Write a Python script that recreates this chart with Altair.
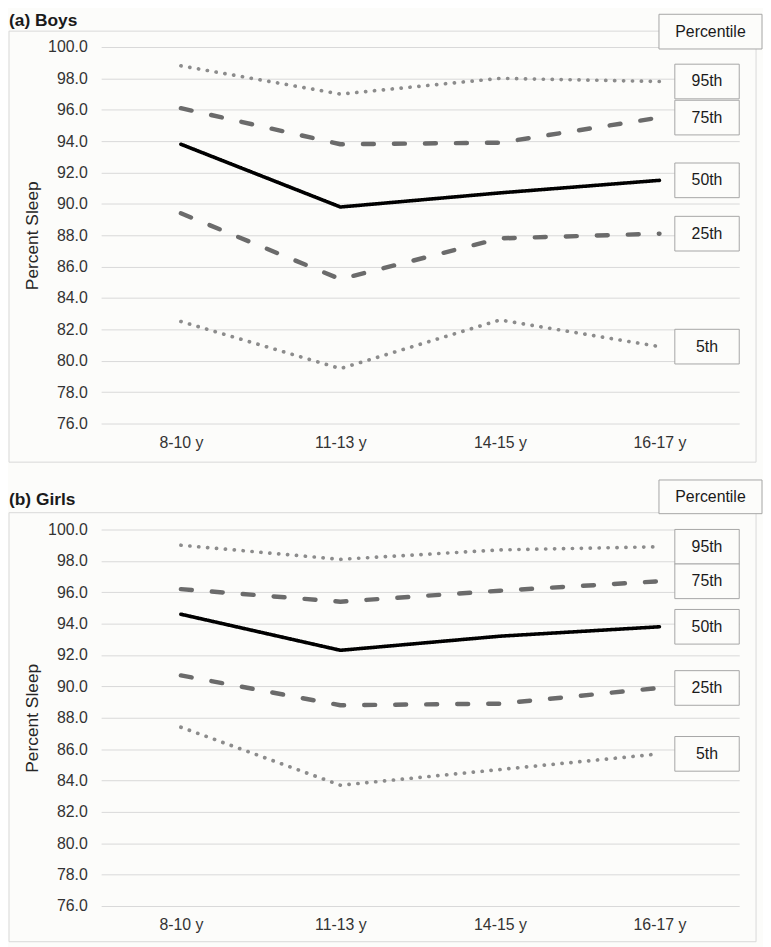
import altair as alt
import pandas as pd

# ---------------- data ----------------
ages = ["8-10 y", "11-13 y", "14-15 y", "16-17 y"]
percentiles = ["95th", "75th", "50th", "25th", "5th"]

boys_p95 = [98.8, 97.0, 98.0, 97.8]
boys_p75 = [96.1, 93.8, 93.9, 95.5]
boys_p50 = [93.8, 89.8, 90.7, 91.5]
boys_p25 = [89.4, 85.2, 87.8, 88.1]
boys_p5 = [82.5, 79.5, 82.6, 80.9]

girls_p95 = [99.0, 98.1, 98.7, 98.9]
girls_p75 = [96.2, 95.4, 96.1, 96.7]
girls_p50 = [94.6, 92.3, 93.2, 93.8]
girls_p25 = [90.7, 88.8, 88.9, 89.9]
girls_p5 = [87.4, 83.7, 84.7, 85.7]

y_ticks = [76, 78, 80, 82, 84, 86, 88, 90, 92, 94, 96, 98, 100]

# ---------------- styling ----------------
FONT = "Liberation Sans, Arial, sans-serif"
BG = "#fcfcfa"
W, H = 644, 380

styles = {
    "95th": dict(color="#8c8c8c", strokeDash=[0.2, 8.8], strokeWidth=3.7),
    "75th": dict(color="#6b6b6b", strokeDash=[11, 20.3], strokeWidth=4.5),
    "50th": dict(color="#000000", strokeDash=[1, 0], strokeWidth=3.6),
    "25th": dict(color="#6b6b6b", strokeDash=[11, 20.3], strokeWidth=4.5),
    "5th": dict(color="#8c8c8c", strokeDash=[0.2, 8.8], strokeWidth=3.7),
}

LABEL_BOX = "M-1,-0.538L1,-0.538L1,0.538L-1,0.538Z"


def panel(title, series, frame_top, frame_bottom, pbox_top, pbox_bottom,
          title_y, title_baseline):
    rows = []
    for p, vals in zip(percentiles, series):
        for a, v in zip(ages, vals):
            rows.append({"age": a, "pct": p, "value": v})
    df = pd.DataFrame(rows)
    last = pd.DataFrame({"pct": percentiles, "value": [s[-1] for s in series]})
    one = pd.DataFrame({"k": [1]})

    x = alt.X(
        "age:N",
        sort=ages,
        scale=alt.Scale(type="point", padding=0.5),
        axis=alt.Axis(
            title=None, labelAngle=0, labelFontSize=16, labelFont=FONT,
            labelColor="#333333", labelPadding=11, domain=False, ticks=False,
            grid=False,
        ),
    )
    y = alt.Y(
        "value:Q",
        scale=alt.Scale(domain=[76, 100], nice=False, zero=False),
        axis=alt.Axis(
            values=y_ticks, format=".1f", title="Percent Sleep",
            titleFont=FONT, titleFontSize=17.5, titleFontWeight="normal",
            titleColor="#262626", titlePadding=6,
            labelFont=FONT, labelFontSize=16, labelColor="#333333",
            labelPadding=14, domain=False, ticks=False,
            grid=True, gridColor="#d9d9d9", gridWidth=1,
        ),
    )

    frame = alt.Chart(one).mark_rect(
        fill="transparent", stroke="#d9d9d9", strokeWidth=1
    ).encode(
        x=alt.value(-93), x2=alt.value(661),
        y=alt.value(frame_top), y2=alt.value(frame_bottom),
    )

    lines = []
    for p in percentiles:
        st = styles[p]
        lines.append(
            alt.Chart(df)
            .transform_filter(alt.datum.pct == p)
            .mark_line(
                color=st["color"], strokeDash=st["strokeDash"],
                strokeWidth=st["strokeWidth"], interpolate="linear",
                strokeCap="round", strokeJoin="round",
            )
            .encode(x=x, y=y)
        )

    boxes = alt.Chart(last).mark_point(
        shape=LABEL_BOX, size=65 * 65, filled=True, fill=BG,
        stroke="#a6a6a6", strokeWidth=1, opacity=1, fillOpacity=1,
        strokeOpacity=1,
    ).encode(x=alt.value(611.5), y=y)

    labels = alt.Chart(last).mark_text(
        font=FONT, fontSize=16, color="#1a1a1a", align="center",
        baseline="middle",
    ).encode(x=alt.value(611.5), y=y, text="pct:N")

    pbox = alt.Chart(one).mark_rect(
        fill=BG, stroke="#a6a6a6", strokeWidth=1
    ).encode(
        x=alt.value(563), x2=alt.value(667),
        y=alt.value(pbox_top), y2=alt.value(pbox_bottom),
    )
    ptext = alt.Chart(one).mark_text(
        text="Percentile", font=FONT, fontSize=16, color="#1a1a1a",
        align="center", baseline="middle",
    ).encode(x=alt.value(615), y=alt.value((pbox_top + pbox_bottom) / 2))

    ttl = alt.Chart(one).mark_text(
        text=title, font=FONT, fontSize=17.5, fontWeight="bold",
        color="#1a1a1a", align="left", baseline=title_baseline,
    ).encode(x=alt.value(-93), y=alt.value(title_y))

    return alt.layer(frame, *lines, boxes, labels, pbox, ptext, ttl).properties(
        width=W, height=H
    )


boys = panel(
    "(a) Boys",
    [boys_p95, boys_p75, boys_p50, boys_p25, boys_p5],
    frame_top=-16, frame_bottom=419, pbox_top=-33, pbox_bottom=2,
    title_y=-35, title_baseline="top",
)
girls = panel(
    "(b) Girls",
    [girls_p95, girls_p75, girls_p50, girls_p25, girls_p5],
    frame_top=-17, frame_bottom=416, pbox_top=-50, pbox_bottom=-16,
    title_y=-24.5, title_baseline="alphabetic",
)

chart = (
    alt.vconcat(boys, girls, spacing=16)
    .properties(padding={"left": 0, "top": 0, "right": 0, "bottom": 0}, background=BG)
    .configure_view(stroke=None)
)

chart.save("out.html", embed_options={"renderer": "svg", "actions": False})
